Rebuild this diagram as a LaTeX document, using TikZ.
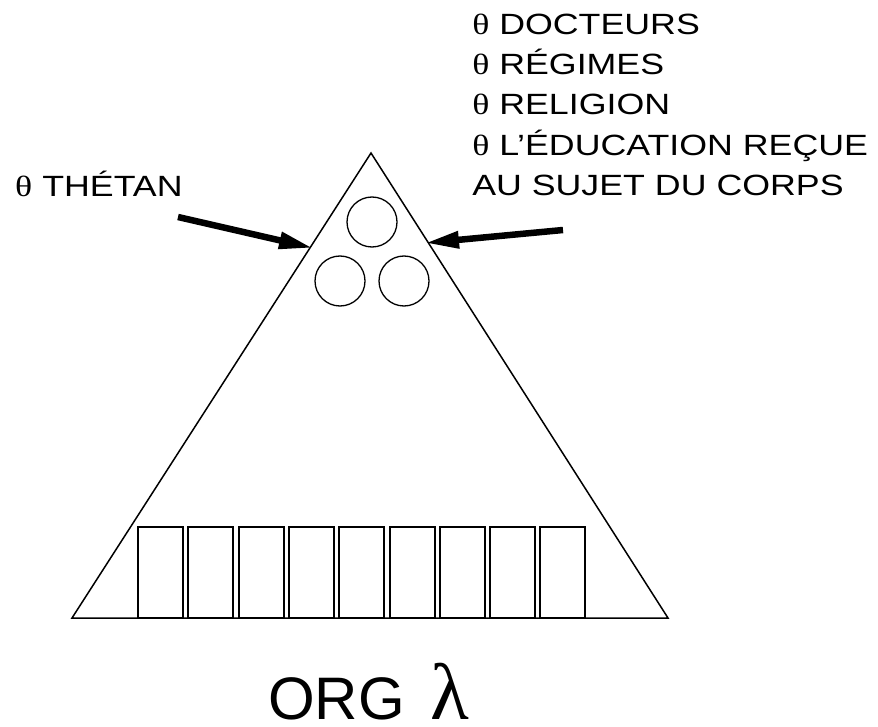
\documentclass[tikz,border=0pt]{standalone}
\usepackage{fontspec}
\setmainfont{Liberation Sans}
\newfontfamily\grk{Liberation Serif}
\usetikzlibrary{arrows.meta}

\tikzset{
  txt/.style={font=\fontsize{29.3}{35}\selectfont, inner sep=0pt, anchor=base west, xscale=1.22, transform shape},
  ball/.style={draw, circle, minimum size=50pt, inner sep=0pt, line width=1.3pt},
  fat/.style={line width=6.5pt, -{Triangle[length=34pt, width=16pt]}}
}

\begin{document}
\begin{tikzpicture}[x=1pt, y=-1pt]
            \useasboundingbox (0,0) rectangle (878,727);
            \coordinate (A) at (371,153); \coordinate (B) at (72,618); \coordinate (C) at (668,618);
            \draw[line width=1.5pt, line join=miter] (A) -- (B) -- (C) -- cycle;
            % cellules du bas
            \foreach \i in {0,...,8}
                \draw[line width=2pt] (138+\i*50.3,527) rectangle ++(45,91);
            \node[ball] (c1) at (372,222) {};
            \node[ball] (c2) at (340,281) {};
            \node[ball] (c3) at (404,281) {};
            % textes
            \node[txt] (thetan) at (15,197) {{\grk θ} THÉTAN};
            \foreach \y/\t [count=\n] in {35/{{\grk θ} DOCTEURS}, 75/{{\grk θ} RÉGIMES}, 115/{{\grk θ} RELIGION}, 156/{{\grk θ} L’ÉDUCATION REÇUE}, 196/{AU SUJET DU CORPS}}
                \node[txt] (l\n) at (472,\y) {\t};
            \coordinate (ta) at (178,217); \coordinate (ha) at (313,248);
            \coordinate (tb) at (563,230); \coordinate (hb) at (425,243);
            \draw[fat] (ta) -- (ha);
            \draw[fat] (tb) -- (hb);
            \node[inner sep=0pt, anchor=base west, font=\fontsize{60}{66}\selectfont] (org) at (268,719) {ORG};
            \node[inner sep=0pt, anchor=base west, font=\grk\fontsize{80}{90}\selectfont] (lam) at (430,719) {λ};
        \end{tikzpicture}
\end{document}
